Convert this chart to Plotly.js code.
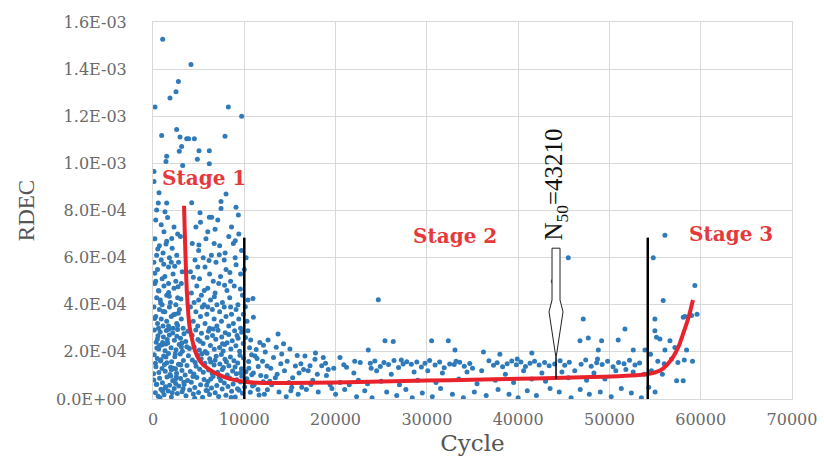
<!DOCTYPE html>
<html>
<head>
<meta charset="utf-8">
<script src="https://cdn.plot.ly/plotly-3.0.1.min.js"></script>
<style>html,body{margin:0;padding:0;background:#fff;}#chart{width:824px;height:457px;}</style>
</head>
<body>
<div id="chart"></div>
<script>
// ---- Stage 1 scatter (cycle, RDEC) ----
var s1Cycle = [
1060,4160,2780,2520,1860,220,8250,9710,950,2590,
2960,3690,3900,4530,7890,3140,2880,5040,6170,1500,
1420,4860,6170,3250,110,110,660,8000,580,1500,
4240,400,1310,7450,7450,9090,5150,6170,6430,9350,
300,900,1600,2300,5200,6000,7100,8600,9400,1200,
2700,6800,4700,200,700,1100,1500,2100,2600,4300,
5000,5800,6400,7300,7900,8800,9700,10200,400,1800,
3000,6700,8300,9000,5500,100,500,900,1300,1700,
2200,2800,4100,4600,5100,5700,6200,6900,7400,8000,
8500,9100,9600,300,1000,2500,3200,6600,7800,10000,
4900,2000,200,600,800,1200,1500,1900,2300,2700,
3100,4200,4500,4800,5300,5600,6000,6300,6800,7200,
7600,8100,8400,8900,9300,9800,400,1000,1700,2500,
5000,7000,10400,100,300,500,700,900,1100,1300,
1500,1800,2000,2200,2400,2600,2900,3100,4100,4400,
4700,4900,5200,5400,5700,5900,6200,6500,6700,7000,
7300,7500,7800,8000,8300,8600,8800,9100,9400,9600,
9900,10300,600,1700,3300,6000,8500,150,350,550,
620,790,960,1140,1320,1460,1610,1790,1980,2170,
2340,2520,2690,2870,3010,3220,3390,3580,3810,3990,
4280,4510,4690,4920,5080,5310,5490,5720,5930,6080,
6290,6520,6710,6880,7120,7290,7530,7680,7910,8120,
8290,8530,8680,8940,9080,9320,9490,9720,9880,10140,
10580,480,1390,2620,3700,5150,6600,7850,9210,1050,
130,320,470,640,820,990,1170,1340,1520,1690,
1860,2040,2210,2390,2580,2790,2980,3170,3330,3520,
3720,3880,4090,4310,4480,4720,4890,5120,5280,5510,
5680,5920,6090,6320,6480,6690,6920,7080,7320,7490,
7720,7880,8130,8310,8480,8720,8870,9130,9280,9520,
9690,9910,10180,10470,10820,11180,11530,270,1260,2470,
4620,6210,7590,8990,3040,5370,8040,9600,1930,6800,
90,260,410,570,720,870,1030,1210,1370,1530,
1670,1820,2010,2160,2320,2480,2670,2820,3020,3190,
3410,3610,3790,4010,4190,4420,4580,4810,4990,5210,
5430,5590,5820,6010,6190,6410,6580,6810,6990,7190,
7410,7580,7810,7990,8220,8390,8610,8780,9010,9190,
9420,9590,9810,10040,10290,10660,11080,11620,12080,12530,
760,1940,3300,4560,5960,7260,8560,9730,2560,6330,
180,420,650,880,1110,1340,1560,1780,2010,2240,
2460,2690,2930,3160,3380,200,520,840,1180,1430,
1710,2050,2380,2740,3060,4420,5030,5610,6140,6720,
7260,7840,8420,9010,9570,10120,4380,5880,7620,9260,
60,360,710,1060,1420,1750,2110,2440,2770,3110
];
var s1Rdec = [
15.27e-4,14.2e-4,13.47e-4,13.04e-4,12.77e-4,12.39e-4,12.39e-4,12.0e-4,11.18e-4,11.44e-4,
11.12e-4,11.05e-4,11.05e-4,11.05e-4,11.15e-4,10.72e-4,10.51e-4,10.54e-4,10.54e-4,10.3e-4,
10.08e-4,10.18e-4,9.98e-4,9.91e-4,9.66e-4,9.23e-4,8.75e-4,8.7e-4,8.32e-4,8.32e-4,
8.33e-4,8.02e-4,7.95e-4,8.38e-4,8.09e-4,8.14e-4,7.9e-4,7.71e-4,7.71e-4,7.81e-4,
7.6e-4,7.4e-4,7.7e-4,7.3e-4,7.5e-4,7.1e-4,7.6e-4,7.3e-4,7.0e-4,7.1e-4,
7.0e-4,7.2e-4,7.3e-4,6.8e-4,6.5e-4,6.2e-4,6.7e-4,6.4e-4,6.1e-4,6.6e-4,
6.3e-4,6.8e-4,6.1e-4,6.5e-4,6.2e-4,6.6e-4,6.3e-4,6.0e-4,6.1e-4,6.0e-4,
6.9e-4,6.6e-4,6.9e-4,6.0e-4,6.0e-4,5.8e-4,5.5e-4,5.9e-4,5.2e-4,5.6e-4,
5.3e-4,5.8e-4,5.4e-4,5.9e-4,5.1e-4,5.6e-4,5.3e-4,5.8e-4,5.2e-4,5.5e-4,
5.0e-4,5.7e-4,5.3e-4,5.0e-4,5.1e-4,5.0e-4,5.4e-4,5.0e-4,5.9e-4,5.5e-4,
5.6e-4,5.8e-4,4.9e-4,4.6e-4,4.2e-4,4.8e-4,4.4e-4,4.1e-4,4.7e-4,4.3e-4,
4.9e-4,4.5e-4,4.1e-4,4.8e-4,4.4e-4,4.0e-4,4.7e-4,4.2e-4,4.5e-4,4.9e-4,
4.1e-4,4.6e-4,4.3e-4,4.8e-4,4.0e-4,4.4e-4,4.3e-4,4.0e-4,4.9e-4,4.0e-4,
4.2e-4,4.0e-4,4.2e-4,3.9e-4,3.5e-4,3.2e-4,3.8e-4,3.4e-4,3.1e-4,3.7e-4,
3.3e-4,3.9e-4,3.5e-4,3.0e-4,3.6e-4,3.2e-4,3.8e-4,3.4e-4,3.9e-4,3.3e-4,
3.7e-4,3.1e-4,3.5e-4,3.9e-4,3.2e-4,3.6e-4,3.0e-4,3.8e-4,3.4e-4,3.1e-4,
3.7e-4,3.3e-4,3.9e-4,3.5e-4,3.1e-4,3.6e-4,3.2e-4,3.8e-4,3.4e-4,3.0e-4,
3.6e-4,3.3e-4,3.0e-4,3.1e-4,3.0e-4,3.9e-4,3.9e-4,2.93e-4,2.41e-4,2.68e-4,
2.12e-4,2.84e-4,2.29e-4,2.63e-4,2.05e-4,2.91e-4,2.38e-4,2.72e-4,2.17e-4,2.8e-4,
2.49e-4,2.09e-4,2.95e-4,2.31e-4,2.58e-4,2.03e-4,2.77e-4,2.44e-4,2.88e-4,2.14e-4,
2.71e-4,2.21e-4,2.93e-4,2.52e-4,2.08e-4,2.79e-4,2.36e-4,2.02e-4,2.61e-4,2.88e-4,
2.27e-4,2.69e-4,2.11e-4,2.54e-4,2.92e-4,2.19e-4,2.63e-4,2.04e-4,2.81e-4,2.39e-4,
2.74e-4,2.12e-4,2.47e-4,2.9e-4,2.26e-4,2.58e-4,2.03e-4,2.83e-4,2.36e-4,2.61e-4,
2.18e-4,2.55e-4,2.33e-4,2.66e-4,2.22e-4,2.45e-4,2.97e-4,2.31e-4,2.69e-4,2.4e-4,
1.88e-4,1.37e-4,1.72e-4,1.12e-4,1.61e-4,1.29e-4,1.83e-4,1.18e-4,1.54e-4,1.93e-4,
1.04e-4,1.58e-4,1.31e-4,1.79e-4,1.09e-4,1.47e-4,1.91e-4,1.21e-4,1.63e-4,1.02e-4,
1.42e-4,1.84e-4,1.17e-4,1.66e-4,1.06e-4,1.39e-4,1.87e-4,1.26e-4,1.71e-4,1.13e-4,
1.52e-4,1.94e-4,1.23e-4,1.57e-4,1.08e-4,1.44e-4,1.81e-4,1.14e-4,1.49e-4,1.89e-4,
1.34e-4,1.69e-4,1.02e-4,1.41e-4,1.78e-4,1.19e-4,1.62e-4,1.07e-4,1.53e-4,1.86e-4,
1.28e-4,1.74e-4,1.16e-4,1.59e-4,1.03e-4,1.82e-4,1.38e-4,1.52e-4,1.46e-4,1.28e-4,
1.55e-4,1.71e-4,1.25e-4,1.36e-4,1.44e-4,1.92e-4,1.58e-4,1.11e-4,1.35e-4,1.64e-4,
0.81e-4,0.27e-4,0.63e-4,0.12e-4,0.88e-4,0.41e-4,0.69e-4,0.18e-4,0.52e-4,0.93e-4,
0.34e-4,0.58e-4,0.09e-4,0.77e-4,0.45e-4,0.66e-4,0.23e-4,0.55e-4,0.87e-4,0.31e-4,
0.62e-4,0.14e-4,0.79e-4,0.38e-4,0.71e-4,0.21e-4,0.49e-4,0.91e-4,0.28e-4,0.6e-4,
0.07e-4,0.83e-4,0.36e-4,0.74e-4,0.19e-4,0.47e-4,0.95e-4,0.26e-4,0.57e-4,0.11e-4,
0.78e-4,0.42e-4,0.68e-4,0.16e-4,0.53e-4,0.89e-4,0.33e-4,0.64e-4,0.08e-4,0.82e-4,
0.37e-4,0.72e-4,0.24e-4,0.51e-4,0.86e-4,0.29e-4,0.61e-4,0.17e-4,0.73e-4,0.39e-4,
0.05e-4,0.98e-4,0.44e-4,0.03e-4,0.35e-4,0.92e-4,0.06e-4,0.97e-4,0.94e-4,0.85e-4,
3.42e-4,2.16e-4,4.58e-4,1.67e-4,3.71e-4,0.47e-4,2.52e-4,4.36e-4,1.24e-4,3.58e-4,
0.84e-4,3.12e-4,1.46e-4,2.38e-4,0.71e-4,5.34e-4,6.37e-4,4.07e-4,5.72e-4,6.58e-4,
4.52e-4,6.81e-4,5.63e-4,4.76e-4,4.24e-4,5.17e-4,6.54e-4,4.61e-4,5.88e-4,4.34e-4,
6.12e-4,4.83e-4,5.37e-4,6.72e-4,4.67e-4,3.92e-4,0.96e-4,0.58e-4,2.34e-4,0.44e-4,
1.07e-4,0.62e-4,2.27e-4,0.33e-4,1.78e-4,2.96e-4,0.27e-4,1.92e-4,3.64e-4,2.21e-4
];
// ---- Stage 2 scatter ----
var s2Cycle = [
10400,10700,11000,10950,11300,11700,12000,12300,12600,12900,
13200,13500,13700,14100,14400,14700,15000,15300,15600,16000,
16300,16650,17000,17200,17500,17740,18100,18480,18650,19000,
19400,19800,20480,11500,12200,13000,13800,14600,15200,15900,
16800,11800,13400,14900,10500,11000,12500,14000,16200,24680,
23580,25410,26320,30520,32350,33080,46770,47680,48780,49140,
50960,52610,53890,38000,41500,36200,45490,43850,43850,47130,
51700,23800,24300,24900,25300,25800,26400,26900,27400,27800,
28300,28900,29400,29800,30300,30900,31400,31900,32500,33000,
33600,34100,34700,36800,37300,37700,38300,38800,39300,39800,
40300,40800,41300,41800,42300,42900,43400,44000,44600,45100,
45600,46900,47400,48000,48600,49200,49800,50400,51000,51600,
52200,52800,53300,22000,24500,26100,28600,30100,31700,34400,
36000,38600,40600,42600,44800,46200,48300,50700,52600,53800,
20500,21500,22500,23500,25000,27000,29000,31000,33500,35500,
37500,39500,41500,43000,45500,47500,49500,21200,35000,51800,
20000,21000,22300,23200,24000,25600,26700,27700,28400,29500,
30600,31500,32800,34000,35200,36500,37800,39000,40000,41000,
42000,43500,44500,45800,46800,47800,49000,50200,51300,52400,
53500,22700,27200,33200,39900,48700,
10900,11400,12100,12800,13600,14300,15100,15800,16500,17300,
18000,18900,19600,10800,12400,17800,19200,20900,22100,23900
];
var s2Rdec = [
2.9e-4,2.5e-4,3.47e-4,4.27e-4,2.1e-4,2.4e-4,1.6e-4,2.0e-4,2.5e-4,1.3e-4,
1.76e-4,2.2e-4,2.76e-4,1.91e-4,1.2e-4,1.6e-4,2.12e-4,0.9e-4,1.4e-4,1.1e-4,
0.5e-4,1.83e-4,1.2e-4,1.41e-4,0.8e-4,1.69e-4,0.3e-4,1.41e-4,1.76e-4,1.0e-4,
0.6e-4,1.3e-4,1.76e-4,0.4e-4,0.2e-4,0.6e-4,0.3e-4,0.1e-4,0.5e-4,0.2e-4,
0.4e-4,1.0e-4,0.9e-4,0.7e-4,1.3e-4,1.1e-4,1.4e-4,1.5e-4,1.5e-4,4.21e-4,
2.08e-4,2.47e-4,2.44e-4,2.47e-4,2.47e-4,2.08e-4,2.47e-4,2.59e-4,2.08e-4,2.47e-4,
2.5e-4,2.08e-4,2.08e-4,1.9e-4,1.95e-4,2.0e-4,6.0e-4,5.0e-4,4.04e-4,3.4e-4,
2.97e-4,1.52e-4,1.61e-4,1.38e-4,1.55e-4,1.46e-4,1.63e-4,1.34e-4,1.49e-4,1.58e-4,
1.47e-4,1.57e-4,1.36e-4,1.52e-4,1.63e-4,1.44e-4,1.57e-4,1.33e-4,1.49e-4,1.46e-4,
1.56e-4,1.39e-4,1.51e-4,1.62e-4,1.43e-4,1.54e-4,1.37e-4,1.5e-4,1.61e-4,1.45e-4,
1.57e-4,1.38e-4,1.52e-4,1.6e-4,1.44e-4,1.55e-4,1.41e-4,1.49e-4,1.62e-4,1.43e-4,
1.56e-4,1.48e-4,1.66e-4,1.39e-4,1.54e-4,1.46e-4,1.6e-4,1.37e-4,1.55e-4,1.5e-4,
1.64e-4,1.44e-4,1.53e-4,1.1e-4,1.2e-4,1.05e-4,1.15e-4,1.2e-4,1.1e-4,1.15e-4,
1.2e-4,1.05e-4,1.2e-4,1.1e-4,1.15e-4,1.2e-4,1.1e-4,1.2e-4,1.15e-4,1.05e-4,
0.7e-4,0.6e-4,0.8e-4,0.65e-4,0.75e-4,0.6e-4,0.8e-4,0.7e-4,0.85e-4,0.65e-4,
0.8e-4,0.7e-4,0.85e-4,0.75e-4,0.9e-4,0.8e-4,0.85e-4,1.35e-4,1.3e-4,1.25e-4,
0.2e-4,0.4e-4,0.1e-4,0.35e-4,0.05e-4,0.3e-4,0.15e-4,0.4e-4,0.05e-4,0.25e-4,
0.1e-4,0.45e-4,0.2e-4,0.05e-4,0.3e-4,0.15e-4,0.4e-4,0.2e-4,0.05e-4,0.35e-4,
0.15e-4,0.45e-4,0.3e-4,0.05e-4,0.4e-4,0.2e-4,0.3e-4,0.1e-4,0.45e-4,0.25e-4,
0.05e-4,1.55e-4,1.65e-4,1.6e-4,1.7e-4,1.7e-4,
0.55e-4,1.72e-4,2.28e-4,0.75e-4,1.05e-4,2.35e-4,0.35e-4,1.85e-4,1.25e-4,0.62e-4,
1.05e-4,1.52e-4,0.45e-4,1.88e-4,0.95e-4,1.95e-4,1.25e-4,1.45e-4,1.6e-4,1.3e-4
];
// ---- Stage 3 scatter ----
var s3Cycle = [
54800,56080,59360,55890,54980,54980,55160,58270,59000,58090,
55530,56630,56080,57170,58450,54500,55300,56000,56800,57500,
58200,59100,54600,55800,57360,58080,54300,55000,59600
];
var s3Rdec = [
6.0e-4,6.95e-4,4.82e-4,4.18e-4,3.4e-4,2.9e-4,2.62e-4,3.5e-4,3.54e-4,3.47e-4,
2.55e-4,2.47e-4,2.08e-4,2.19e-4,2.08e-4,1.9e-4,1.6e-4,1.5e-4,1.7e-4,1.55e-4,
1.65e-4,1.6e-4,1.2e-4,1.05e-4,0.77e-4,0.77e-4,0.5e-4,0.3e-4,3.6e-4
];
// ---- Fitted trend (red) ----
var fitCycle = [3400,3500,3600,3700,3850,4000,4300,4600,5000,5500,6000,6800,7900,9000,10300,12000,15000,20000,25000,30000,35000,40000,44000,48000,51000,53300,54500,55600,56300,57000,57600,58100,58500,58800,59150];
var fitRdec  = [8.2e-4,6.8e-4,5.6e-4,4.6e-4,3.7e-4,3.1e-4,2.5e-4,2.05e-4,1.7e-4,1.45e-4,1.3e-4,1.1e-4,0.92e-4,0.8e-4,0.72e-4,0.68e-4,0.68e-4,0.7e-4,0.74e-4,0.78e-4,0.82e-4,0.86e-4,0.89e-4,0.93e-4,0.97e-4,1.02e-4,1.08e-4,1.22e-4,1.45e-4,1.8e-4,2.25e-4,2.8e-4,3.25e-4,3.65e-4,4.2e-4];

// ---- Stage boundaries, marker, labels ----
var stageBounds = [10000, 54200];
var stageBoundTop = 6.85e-4;
var nf50Cycle = 44150;
var nf50Label = 'N<sub>50</sub>=43210';
var stageLabels = ['Stage 1','Stage 2','Stage 3'];
var stageLabelCycle = [5600, 33100, 63300];
var stageLabelRdec = [9.4e-4, 6.9e-4, 7.0e-4];

// ---- Axes ticks ----
var xTickVals = [0,10000,20000,30000,40000,50000,60000,70000];
var xTickText = ['0','10000','20000','30000','40000','50000','60000','70000'];
var yTickVals = [0,2e-4,4e-4,6e-4,8e-4,10e-4,12e-4,14e-4,16e-4];
var yTickText = ['0.0E+00','2.0E-04','4.0E-04','6.0E-04','8.0E-04','1.0E-03','1.2E-03','1.4E-03','1.6E-03'];

var blue = '#2f7ab9';
var markerStyle = {color: blue, size: 5};
var traces = [
  {x: s1Cycle, y: s1Rdec, mode: 'markers', type: 'scatter', marker: markerStyle, hoverinfo: 'skip'},
  {x: s2Cycle, y: s2Rdec, mode: 'markers', type: 'scatter', marker: markerStyle, hoverinfo: 'skip'},
  {x: s3Cycle, y: s3Rdec, mode: 'markers', type: 'scatter', marker: markerStyle, hoverinfo: 'skip'},
  {x: fitCycle, y: fitRdec, mode: 'lines', type: 'scatter', line: {color: '#e8232b', width: 4, shape: 'spline', smoothing: 0.6}, hoverinfo: 'skip'}
];

var shapes = stageBounds.map(function (c) {
  return {type: 'line', xref: 'x', yref: 'y', x0: c, x1: c, y0: 0, y1: stageBoundTop, line: {color: '#000', width: 2.5}};
});
// hollow arrow (pixel sizes converted to data units)
var pxX = 70000 / 639;
var aTop = 6.4e-4, aShaftEnd = 4.2e-4, aShoulder = 3.7e-4, aTip = 1.74e-4, aLineEnd = 0.85e-4;
var hs = 4 * pxX, hh = 7 * pxX;
var path = 'M' + (nf50Cycle - hs) + ',' + aTop +
  ' L' + (nf50Cycle - hs) + ',' + aShaftEnd +
  ' L' + (nf50Cycle - hh) + ',' + aShoulder +
  ' L' + nf50Cycle + ',' + aTip +
  ' L' + (nf50Cycle + hh) + ',' + aShoulder +
  ' L' + (nf50Cycle + hs) + ',' + aShaftEnd +
  ' L' + (nf50Cycle + hs) + ',' + aTop + ' Z';
shapes.push({type: 'path', xref: 'x', yref: 'y', path: path, fillcolor: '#fff', line: {color: '#222', width: 1}});
shapes.push({type: 'line', xref: 'x', yref: 'y', x0: nf50Cycle, x1: nf50Cycle, y0: aTip, y1: aLineEnd, line: {color: '#000', width: 1.5}});

var annotations = stageLabels.map(function (t, i) {
  return {x: stageLabelCycle[i], y: stageLabelRdec[i], xref: 'x', yref: 'y', text: '<b>' + t + '</b>', showarrow: false,
    font: {family: 'DejaVu Serif', size: 20, color: '#e5393c'}};
});
annotations.push({x: nf50Cycle, y: 9.1e-4, xref: 'x', yref: 'y', text: nf50Label, textangle: -90, showarrow: false,
  font: {family: 'Liberation Serif', size: 25, color: '#111'}});

var gridColor = '#d9d9d9';
var tickFont = {family: 'DejaVu Serif', size: 16, color: '#6a6a6a'};
var layout = {
  width: 824, height: 457,
  margin: {l: 153, r: 32, t: 22, b: 58, pad: 0},
  paper_bgcolor: '#fff', plot_bgcolor: '#fff',
  showlegend: false,
  xaxis: {range: [0, 70000], tickvals: xTickVals, ticktext: xTickText, showgrid: true, gridcolor: gridColor, gridwidth: 1,
    zeroline: false, showline: true, mirror: true, linecolor: gridColor, linewidth: 1, ticks: '', tickfont: tickFont,
    ticklabelstandoff: 6,
    title: {text: 'Cycle', font: {family: 'DejaVu Serif', size: 23, color: '#555'}, standoff: 6}},
  yaxis: {range: [0, 1.6e-3], tickvals: yTickVals, ticktext: yTickText, showgrid: true, gridcolor: gridColor, gridwidth: 1,
    zeroline: false, showline: true, mirror: true, linecolor: gridColor, linewidth: 1, ticks: '', tickfont: tickFont,
    ticklabelstandoff: 22,
    title: {text: 'RDEC', font: {family: 'Liberation Serif', size: 23, color: '#555'}, standoff: 14}},
  shapes: shapes,
  annotations: annotations
};
Plotly.newPlot('chart', traces, layout, {staticPlot: true, displayModeBar: false});
</script>
</body>
</html>
